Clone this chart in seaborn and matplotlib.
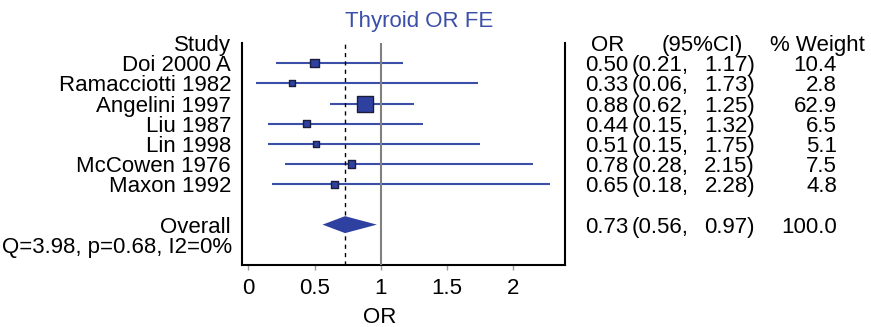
import matplotlib
matplotlib.use("Agg")
import matplotlib.pyplot as plt
import numpy as np
import pandas as pd
import seaborn as sns

# ---------------- data ----------------
studies = ["Doi 2000 A", "Ramacciotti 1982", "Angelini 1997", "Liu 1987",
           "Lin 1998", "McCowen 1976", "Maxon 1992"]
or_vals = [0.50, 0.33, 0.88, 0.44, 0.51, 0.78, 0.65]
ci_low = [0.21, 0.06, 0.62, 0.15, 0.15, 0.28, 0.18]
ci_high = [1.17, 1.73, 1.25, 1.32, 1.75, 2.15, 2.28]
weights = [10.4, 2.8, 62.9, 6.5, 5.1, 7.5, 4.8]
overall_or = 0.73
overall_low = 0.56
overall_high = 0.97
overall_weight = 100.0
het_text = "Q=3.98, p=0.68, I2=0%"
title = "Thyroid OR FE"
x_ticks = [0, 0.5, 1, 1.5, 2]
x_ticklabels = ["0", "0.5", "1", "1.5", "2"]

# ---------------- style ----------------
sns.set_theme(style="white")
plt.rcParams["font.family"] = ["Liberation Sans", "DejaVu Sans"]
plt.rcParams["text.color"] = "black"
plt.rcParams["axes.labelcolor"] = "black"
FS = 16.0
BLUE_LINE = "#3b4ea8"
BLUE_FILL = "#2e41a0"
EDGE = "#1a1d3c"
W, H = 871, 327

fig = plt.figure(figsize=(W / 100, H / 100), dpi=100)
ax = fig.add_axes([241.7 / W, 1 - 265 / H, (565 - 241.7) / W, (265 - 43) / H])

rows = np.arange(1, len(studies) + 1)
overall_row = len(studies) + 2
het_row = overall_row + 1

df = pd.DataFrame({"study": studies, "OR": or_vals, "lo": ci_low, "hi": ci_high,
                   "w": weights, "row": rows})
side_px = 3 + 1.65 * np.sqrt(df["w"])
df["area"] = (side_px * 0.72) ** 2

# CI lines
ax.hlines(df["row"], df["lo"], df["hi"], color=BLUE_LINE, lw=1.5, zorder=2)
# reference lines
ax.axvline(1, color="#808080", lw=1.5, zorder=3)
ax.axvline(overall_or, color="black", lw=1.0, ls=(0, (3, 3)), zorder=3)
# study squares
sns.scatterplot(data=df, x="OR", y="row", size="area",
                sizes=(df["area"].min(), df["area"].max()),
                marker="s", color=BLUE_FILL, edgecolor=EDGE, linewidth=1.0,
                legend=False, ax=ax, zorder=5)
# overall diamond
dh = 0.42
ax.fill([overall_low, overall_or, overall_high, overall_or],
        [overall_row, overall_row - dh, overall_row, overall_row + dh],
        color=BLUE_FILL, lw=0, zorder=4)

ax.set_xlim(-0.05, 2.39)
ax.set_ylim(11, 0)
ax.set_xticks(x_ticks)
ax.set_xticklabels(x_ticklabels)
ax.set_yticks([])
ax.tick_params(axis="x", bottom=True, length=3.5, width=1, color="#9a9a9a",
               labelsize=FS, pad=5.5, labelcolor="black")
for side in ["left", "right", "bottom"]:
    ax.spines[side].set_visible(True)
    ax.spines[side].set_color("black")
    ax.spines[side].set_linewidth(1.5)
ax.spines["top"].set_visible(False)
ax.set_ylabel("")
ax.set_xlabel("OR", fontsize=FS, color="black")
ax.xaxis.label.set_va("baseline")
ax.xaxis.set_label_coords((380 - 241.7) / (565 - 241.7), (265 - 323) / (265 - 43))


def put(xpx, row, s, ha="left", color="black"):
    ax.annotate(s, xy=(xpx / W, row + 0.4), xycoords=("figure fraction", "data"),
                ha=ha, va="baseline", fontsize=FS, color=color,
                annotation_clip=False)


# left labels
put(231, 0, "Study", ha="right")
for r, s in zip(rows, studies):
    put(231, r, s, ha="right")
put(231, overall_row, "Overall", ha="right")
put(232, het_row, het_text, ha="right")

# right columns
put(608, 0, "OR", ha="center")
put(702, 0, "(95%CI)", ha="center")
put(817, 0, "% Weight", ha="center")
for r, o, lo, hi, w in zip(rows, or_vals, ci_low, ci_high, weights):
    put(628, r, f"{o:.2f}", ha="right")
    put(632, r, f"({lo:.2f},", ha="left")
    put(755, r, f"{hi:.2f})", ha="right")
    put(837, r, f"{w:.1f}", ha="right")
put(628, overall_row, f"{overall_or:.2f}", ha="right")
put(632, overall_row, f"({overall_low:.2f},", ha="left")
put(755, overall_row, f"{overall_high:.2f})", ha="right")
put(837, overall_row, f"{overall_weight:.1f}", ha="right")

fig.text(419 / W, 1 - 27 / H, title, ha="center", va="baseline",
         fontsize=FS, color=BLUE_LINE)

fig.savefig("out.png", dpi=100)
